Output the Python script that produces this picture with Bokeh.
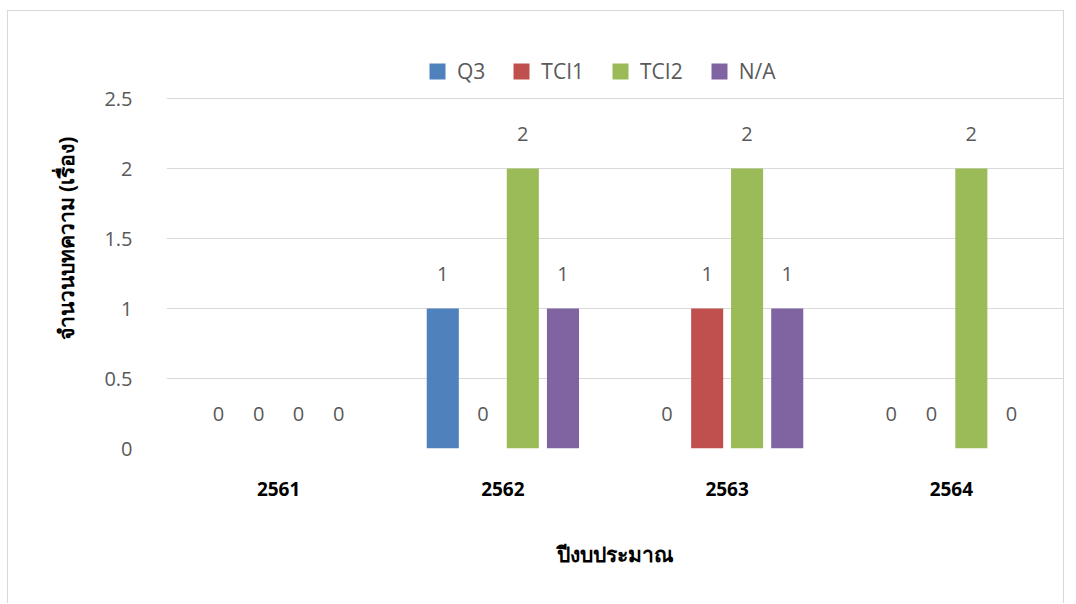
from bokeh.plotting import figure
from bokeh.models import ColumnDataSource, FactorRange, Range1d, FixedTicker, Legend, LegendItem
from bokeh.transform import dodge
from bokeh.core.properties import value
from bokeh.embed import file_html
from bokeh.resources import INLINE

years = ["2561", "2562", "2563", "2564"]
series = ["Q3", "TCI1", "TCI2", "N/A"]
q3 = [0, 1, 0, 0]
tci1 = [0, 0, 1, 0]
tci2 = [0, 2, 2, 2]
na = [0, 1, 1, 0]
colors = ["#4F81BD", "#C0504D", "#9BBB59", "#8064A2"]
y_ticks = [0, 0.5, 1, 1.5, 2, 2.5]
y_tick_labels = ["0", "0.5", "1", "1.5", "2", "2.5"]
x_title = "ปีงบประมาณ"
y_title = "จำนวนบทความ (เรื่อง)"

data = {"year": years, "Q3": q3, "TCI1": tci1, "TCI2": tci2, "N/A": na}
for s in series:
    data[s + "_lbl"] = [str(v) for v in data[s]]
src = ColumnDataSource(data)

p = figure(x_range=FactorRange(*years), y_range=Range1d(0, 3.0),
           width=1057, height=593, output_backend="svg", toolbar_location=None,
           min_border_left=158, min_border_right=2, min_border_top=17, min_border_bottom=156)
p.styles = {"margin-left": "7px", "margin-top": "10px",
            "border-left": "1px solid #d9d9d9", "border-top": "1px solid #d9d9d9",
            "border-right": "1px solid #d9d9d9"}
p.outline_line_color = None
p.xgrid.grid_line_color = None
p.ygrid.grid_line_color = "#d9d9d9"
p.ygrid.grid_line_width = 1

p.yaxis.ticker = FixedTicker(ticks=y_ticks)
p.yaxis.major_label_overrides = {t: l for t, l in zip(y_ticks, y_tick_labels)}
p.yaxis.axis_line_color = None
p.yaxis.major_tick_line_color = None
p.yaxis.minor_tick_line_color = None
p.yaxis.major_label_text_font = "Open Sans"
p.yaxis.major_label_text_font_size = "20px"
p.yaxis.major_label_text_color = "#595959"
p.yaxis.major_label_standoff = 28
p.yaxis.axis_label = y_title
p.yaxis.axis_label_text_font = "Noto Sans"
p.yaxis.axis_label_text_font_style = "bold"
p.yaxis.axis_label_text_font_size = "21px"
p.yaxis.axis_label_text_color = "#000000"
p.yaxis.axis_label_standoff = 21

p.xaxis.axis_line_color = None
p.xaxis.major_tick_line_color = None
p.xaxis.minor_tick_line_color = None
p.xaxis.major_label_text_font = "Noto Sans"
p.xaxis.major_label_text_font_style = "bold"
p.xaxis.major_label_text_font_size = "19px"
p.xaxis.major_label_text_color = "#000000"
p.xaxis.major_label_standoff = 27
p.xaxis.axis_label = x_title
p.xaxis.axis_label_text_font = "Noto Sans"
p.xaxis.axis_label_text_font_style = "bold"
p.xaxis.axis_label_text_font_size = "21px"
p.xaxis.axis_label_text_color = "#000000"
p.xaxis.axis_label_standoff = 41

offsets = [-0.268, -0.089, 0.089, 0.268]
items = []
for s, c, off in zip(series, colors, offsets):
    r = p.vbar(x=dodge("year", off, range=p.x_range), top=s, width=0.143, source=src,
               fill_color=c, line_color=None)
    p.text(x=dodge("year", off, range=p.x_range), y=s, text=s + "_lbl", source=src,
           text_align="center", text_baseline="middle", y_offset=-35,
           text_font=value("Open Sans"), text_font_size="20px", text_color="#595959")
    items.append(LegendItem(label=s, renderers=[r]))

legend = Legend(items=items, orientation="horizontal", location=(261, 363),
                label_text_font="Open Sans", label_text_font_size="21px",
                label_text_color="#595959", glyph_width=20, glyph_height=20,
                label_standoff=10, spacing=26, padding=0, margin=0,
                border_line_color=None, background_fill_alpha=0)
p.add_layout(legend)

open("out.html", "w").write(file_html(p, INLINE))
